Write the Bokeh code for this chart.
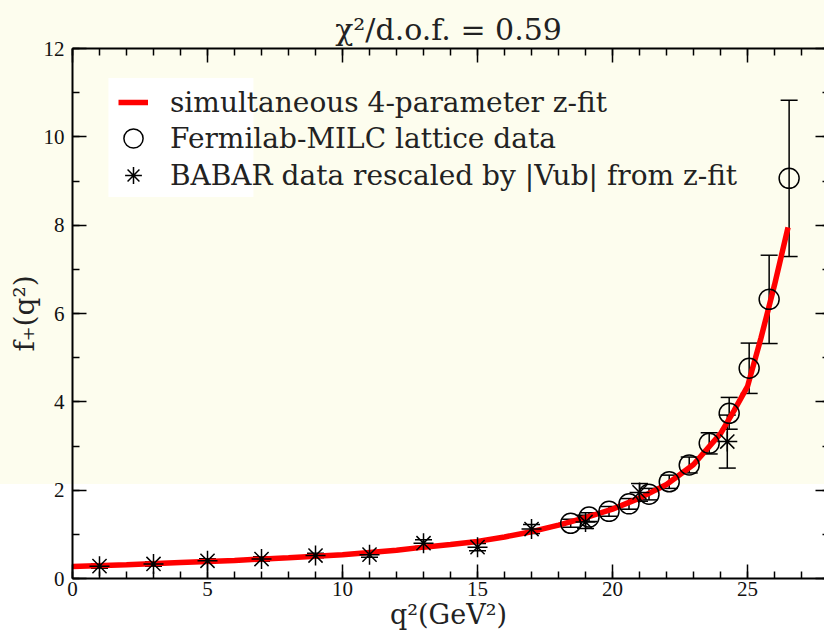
from bokeh.plotting import figure
from bokeh.models import (Range1d, LinearAxis, Legend, LegendItem,
                          BoxAnnotation, ColumnDataSource, SingleIntervalTicker)
from bokeh.embed import file_html
from bokeh.resources import INLINE

# ---- data ----
fit_q2 = [0, 2, 4, 6, 8, 10, 12, 13, 14, 15, 16, 17, 18, 19, 20, 21, 22, 23,
          24, 24.5, 25, 25.5, 26, 26.5]
fit_f = [0.27, 0.31, 0.36, 0.41, 0.47, 0.54, 0.64, 0.71, 0.77, 0.84, 0.94,
         1.06, 1.21, 1.38, 1.57, 1.82, 2.13, 2.58, 3.28, 3.80, 4.35, 5.45,
         6.65, 7.95]

lat_q2 = [18.45, 19.13, 19.87, 20.61, 21.35, 22.10, 22.84, 23.58, 24.32,
          25.06, 25.80, 26.54]
lat_f = [1.25, 1.39, 1.52, 1.69, 1.91, 2.19, 2.57, 3.06, 3.74, 4.76, 6.32, 9.06]
lat_err = [0.09, 0.10, 0.11, 0.12, 0.13, 0.15, 0.18, 0.24, 0.36, 0.57, 1.00, 1.77]

bab_q2 = [1, 3, 5, 7, 9, 11, 13, 15, 17, 19, 21, 24.25]
bab_f = [0.28, 0.33, 0.40, 0.44, 0.52, 0.54, 0.80, 0.71, 1.12, 1.28, 1.95, 3.10]
bab_err = [0.05, 0.05, 0.05, 0.05, 0.05, 0.06, 0.075, 0.08, 0.10, 0.15, 0.20, 0.60]

legend_labels = ["simultaneous 4-parameter z-fit",
                 "Fermilab-MILC lattice data",
                 "BABAR data rescaled by |Vub| from z-fit"]
title_text = "χ²/d.o.f. = 0.59"
x_label = "q²(GeV²)"
y_label = "f₊(q²)"

IVORY = "#FDFDEE"
SERIF = "DejaVu Serif"
TXT = "#222222"

p = figure(width=824, height=632, x_range=Range1d(0, 27.85), y_range=Range1d(0, 12),
           output_backend="svg", toolbar_location=None,
           min_border_left=72, min_border_right=0, min_border_top=48,
           min_border_bottom=53, background_fill_color=None,
           border_fill_color=None, outline_line_color=None)
p.styles = {"background": f"linear-gradient(to bottom, {IVORY} 0px, {IVORY} 484px, #FFFFFF 484px)"}
p.xgrid.visible = False
p.ygrid.visible = False

p.title.text = title_text
p.title.align = "center"
p.title.text_font = SERIF
p.title.text_font_size = "30px"
p.title.text_font_style = "normal"
p.title.text_color = TXT
p.title.standoff = 4

bottom_ax = p.below[0]
left_ax = p.left[0]
top_ax = LinearAxis()
right_ax = LinearAxis()
p.add_layout(top_ax, "above")
p.add_layout(right_ax, "right")

for ax in (bottom_ax, top_ax):
    ax.ticker = SingleIntervalTicker(interval=5, num_minor_ticks=5)
for ax in (left_ax, right_ax):
    ax.ticker = SingleIntervalTicker(interval=2, num_minor_ticks=2)
for ax in (bottom_ax, top_ax, left_ax, right_ax):
    ax.axis_line_color = "black"
    ax.axis_line_width = 2
    ax.major_tick_line_color = "black"
    ax.minor_tick_line_color = "black"
    ax.major_tick_line_width = 1.5
    ax.minor_tick_line_width = 1.5
    ax.major_tick_in = 14
    ax.major_tick_out = 0
    ax.minor_tick_in = 7
    ax.minor_tick_out = 0
    ax.major_label_text_font = "Liberation Serif"
    ax.major_label_text_font_size = "21px"
    ax.major_label_text_color = "#111111"
bottom_ax.major_label_standoff = 3
left_ax.major_label_standoff = 8
for ax in (top_ax, right_ax):
    ax.major_label_text_font_size = "0px"
    ax.major_label_text_color = None
    ax.major_label_standoff = 0
right_ax.axis_line_color = None
right_ax.major_tick_in = 9
right_ax.minor_tick_in = 2

bottom_ax.axis_label = x_label
bottom_ax.axis_label_text_font = SERIF
bottom_ax.axis_label_text_font_size = "27px"
bottom_ax.axis_label_text_font_style = "normal"
bottom_ax.axis_label_text_color = TXT
bottom_ax.axis_label_standoff = 0

left_ax.axis_label = y_label
left_ax.axis_label_text_font = SERIF
left_ax.axis_label_text_font_size = "28px"
left_ax.axis_label_text_font_style = "normal"
left_ax.axis_label_text_color = TXT
left_ax.axis_label_standoff = 0

# white legend patch
p.add_layout(BoxAnnotation(left=1.33, right=6.70, bottom=8.64, top=11.33,
                           fill_color="white", fill_alpha=1, line_color=None,
                           level="underlay"))

# error bars
lat_src = ColumnDataSource(dict(x=lat_q2, y=lat_f,
                                lo=[f - e for f, e in zip(lat_f, lat_err)],
                                hi=[f + e for f, e in zip(lat_f, lat_err)]))
bab_src = ColumnDataSource(dict(x=bab_q2, y=bab_f,
                                lo=[f - e for f, e in zip(bab_f, bab_err)],
                                hi=[f + e for f, e in zip(bab_f, bab_err)]))
for src in (lat_src, bab_src):
    p.segment(x0="x", y0="lo", x1="x", y1="hi", source=src, line_color="black", line_width=1.5)
    p.scatter(x="x", y="lo", source=src, marker="dash", size=17, line_color="black", line_width=1.5)
    p.scatter(x="x", y="hi", source=src, marker="dash", size=17, line_color="black", line_width=1.5)

fit_r = p.line(fit_q2, fit_f, line_color="#FF0000", line_width=5.5)
lat_r = p.scatter(x="x", y="y", source=lat_src, marker="circle", size=20,
                  fill_color=None, line_color="black", line_width=1.5)
bab_r = p.scatter(x="x", y="y", source=bab_src, marker="asterisk", size=20,
                  line_color="black", line_width=1.5)

common = dict(orientation="vertical", label_text_font=SERIF, label_text_font_size="28px",
              label_text_color=TXT, padding=0, margin=0, spacing=0,
              background_fill_alpha=0, border_line_alpha=0)
legend_a = Legend(items=[LegendItem(label=legend_labels[0], renderers=[fit_r])],
                  location=(46, 458), glyph_width=30, glyph_height=20,
                  label_standoff=22, label_height=36, **common)
legend_b = Legend(items=[LegendItem(label=legend_labels[1], renderers=[lat_r])],
                  location=(37, 416), glyph_width=48, glyph_height=48,
                  label_standoff=13, label_height=48, **common)
legend_c = Legend(items=[LegendItem(label=legend_labels[2], renderers=[bab_r])],
                  location=(40, 382), glyph_width=42, glyph_height=42,
                  label_standoff=16, label_height=42, **common)
p.add_layout(legend_a)
p.add_layout(legend_b)
p.add_layout(legend_c)

open("out.html", "w").write(file_html(p, INLINE))
